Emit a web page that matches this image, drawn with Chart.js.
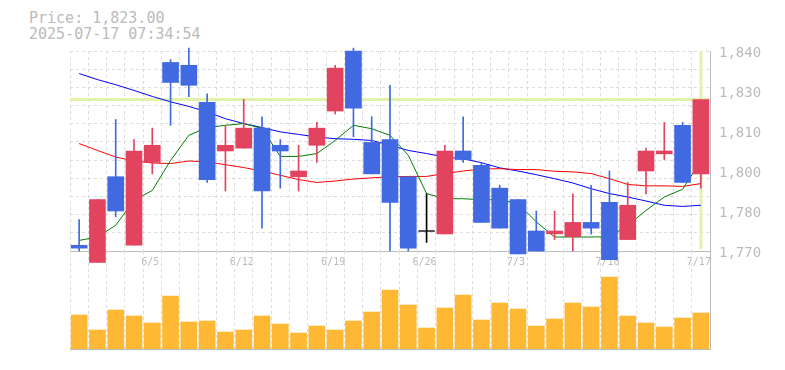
<!DOCTYPE html>
<html><head><meta charset="utf-8">
<script src="https://cdn.jsdelivr.net/npm/chart.js@4"></script>
<style>
html,body{margin:0;padding:0;background:#fff;width:785px;height:370px;overflow:hidden;}
#title{position:absolute;left:29px;top:10px;font:15px/16px "DejaVu Sans Mono",monospace;color:#bbb;white-space:pre;}
#pc{position:absolute;left:0;top:0;}
#vc{position:absolute;left:0;top:251px;}
</style></head><body>
<div id="title">Price: 1,823.00<br>2025-07-17 07:34:54</div>
<canvas id="pc" width="785" height="276"></canvas>
<canvas id="vc" width="785" height="110"></canvas>
<script>
const dates = ['5/30','6/2','6/3','6/4','6/5','6/6','6/9','6/10','6/11','6/12','6/13','6/16','6/17','6/18','6/19','6/20','6/23','6/24','6/25','6/26','6/27','6/30','7/1','7/2','7/3','7/4','7/7','7/8','7/9','7/10','7/11','7/14','7/15','7/16','7/17'];
const xTickLabels = ['6/5','6/12','6/19','6/26','7/3','7/10','7/17'];
const yTickLabels = ['1,770','1,780','1,800','1,810','1,830','1,840'];
const yMin = 1770, yMax = 1840;

const openP  = [1772,1766,1796,1772,1801,1836,1835,1822,1805,1806,1813,1807,1796,1807,1819,1840,1808,1809,1796,1777,1776,1805,1800,1792,1788,1777,1776,1775,1780,1787,1774,1798,1804,1814,1797];
const highP  = [1781,1788,1816,1809,1813,1837,1841,1825,1814,1823,1817,1809,1807,1815,1835,1841,1817,1828,1796,1790,1807,1817,1801,1793,1788,1784,1784,1790,1793,1798,1794,1806,1815,1815,1823];
const lowP   = [1770,1766,1782,1772,1797,1814,1824,1794,1791,1806,1778,1792,1791,1801,1818,1810,1797,1770,1770,1773,1776,1801,1780,1778,1769,1770,1774,1770,1776,1767,1774,1790,1802,1794,1792];
const closeP = [1771,1788,1784,1805,1807,1829,1828,1795,1807,1813,1791,1805,1798,1813,1834,1820,1797,1787,1771,1777,1805,1802,1780,1778,1769,1770,1777,1780,1778,1767,1786,1805,1805,1794,1823];

const ma5  = [1773.7,1774.9,1779.0,1787.7,1791.2,1801.7,1810.5,1813.2,1814.0,1814.6,1812.9,1803.1,1803.1,1804.1,1808.7,1814.0,1812.8,1810.5,1803.5,1790.1,1788.3,1788.3,1787.9,1788.0,1786.6,1780.2,1774.9,1774.9,1774.9,1775.0,1779.0,1784.2,1788.9,1791.6,1801.5];
const ma25 = [1807.6,1805.2,1802.9,1801.5,1800.8,1800.6,1801.5,1801.2,1800.2,1799.2,1798.0,1796.5,1795.0,1794.0,1794.5,1795.2,1795.6,1796.0,1796.1,1796.1,1797.1,1798.0,1798.7,1798.8,1798.5,1798.5,1797.9,1797.7,1797.1,1795.3,1793.3,1792.8,1792.8,1792.6,1793.6];
const ma75 = [1832.1,1830.0,1828.2,1826.2,1824.1,1822.2,1820.6,1818.7,1816.3,1814.6,1813.2,1811.7,1810.8,1809.9,1809.3,1809.1,1808.7,1807.0,1805.2,1804.1,1802.9,1802.3,1800.9,1799.1,1798.0,1796.7,1795.3,1793.8,1791.8,1790.1,1788.9,1787.5,1786.0,1785.6,1786.0];

const volume = [34000,19000,39000,33000,26000,53000,27000,28000,17000,19000,33000,25000,16000,23000,19000,28000,37000,59000,44000,21000,41000,54000,29000,46000,40000,23000,30000,46000,42000,72000,33000,26000,22000,31000,36000];
const volMax = 98000;

const RED = 'rgb(226,67,94)', BLUE = 'rgb(65,105,225)', BLACK = '#000';
const candleColor = dates.map((d,i) => closeP[i] > openP[i] ? RED : (closeP[i] < openP[i] ? BLUE : BLACK));
const FONT = 'DejaVu Sans Mono';
const GRID = '#dcdcdc', AXIS = '#bbb', TXT = '#bbb';

const lastPricePlugin = {
  id: 'lastPrice',
  beforeDatasetsDraw(chart) {
    const {ctx, chartArea: a, scales} = chart;
    const n = closeP.length - 1;
    const y = scales.y.getPixelForValue(closeP[n]);
    const x = scales.x.getPixelForValue(n);
    ctx.save();
    ctx.strokeStyle = 'rgba(222,242,160,0.9)';
    ctx.lineWidth = 3;
    ctx.beginPath();
    ctx.moveTo(a.left, y); ctx.lineTo(a.right, y);
    ctx.moveTo(x, a.top); ctx.lineTo(x, a.bottom - 2);
    ctx.stroke();
    ctx.restore();
  }
};

new Chart(document.getElementById('pc'), {
  type: 'bar',
  data: {
    labels: dates,
    datasets: [
      {type:'line', data: ma75, borderColor:'#0000ff', borderWidth:1, pointRadius:0, tension:0, fill:false, order:7, yAxisID:'y'},
      {type:'line', data: ma25, borderColor:'#ff0000', borderWidth:1, pointRadius:0, tension:0, fill:false, order:6, yAxisID:'y'},
      {type:'line', data: ma5, borderColor:'#008000', borderWidth:1, pointRadius:0, tension:0, fill:false, order:5, yAxisID:'y'},
      {type:'bar', data: dates.map((d,i)=>[lowP[i], highP[i]]), backgroundColor: candleColor, barThickness:1, grouped:false, clip:false, order:3, yAxisID:'y'},
      {type:'bar', data: dates.map((d,i)=>[openP[i], closeP[i]]), backgroundColor: candleColor, barThickness:16, grouped:false, clip:false, order:2, yAxisID:'y'},
      {type:'line', data: dates.map((d,i)=> openP[i] === closeP[i] ? openP[i] : null), showLine:false, pointStyle:'line', pointRadius:8, pointBorderColor:BLACK, pointBackgroundColor:BLACK, pointBorderWidth:1, clip:false, order:1, yAxisID:'y'}
    ]
  },
  plugins: [lastPricePlugin],
  options: {
    responsive:false, animation:false,
    layout:{padding:{left:70, top:51, right:0, bottom:0}},
    plugins:{legend:{display:false}, tooltip:{enabled:false}},
    scales:{
      y:{type:'linear', position:'left', min:yMin, max:yMax,
        afterBuildTicks: s => { s.ticks = Array.from({length:12}, (_,k) => ({value: yMin + k*(yMax-yMin)/11})); },
        ticks:{display:false}, grid:{color:GRID, drawTicks:false}, border:{display:false, dash:[3,3]},
        afterFit: s => { s.width = 0; }},
      yR:{type:'linear', position:'right', min:yMin, max:yMax,
        afterBuildTicks: s => { s.ticks = yTickLabels.map((_,k) => ({value: yMin + k*(yMax-yMin)/(yTickLabels.length-1)})); },
        ticks:{callback:(v,i)=>yTickLabels[i], padding:9, labelOffset:2, color:TXT, font:{family:FONT, size:14}},
        grid:{display:false, drawTicks:false}, border:{display:true, color:AXIS, width:1},
        afterFit: s => { s.width = 75; }},
      x:{type:'category', offset:true,
        grid:{offset:true, color:GRID, drawTicks:false}, border:{display:true, color:AXIS, width:1, dash:[3,3]},
        ticks:{autoSkip:false, maxRotation:0, padding:5, labelOffset:-2, color:TXT, font:{family:FONT, size:10},
          callback:(v,i)=> xTickLabels.includes(dates[i]) ? dates[i] : ''},
        afterFit: s => { s.height = 25; }}
    }
  }
});

new Chart(document.getElementById('vc'), {
  type:'bar',
  data:{labels:dates, datasets:[{data:volume, backgroundColor:'rgb(255,184,52)', barThickness:16}]},
  options:{
    responsive:false, animation:false,
    layout:{padding:{left:70, top:0, right:0, bottom:0}},
    plugins:{legend:{display:false}, tooltip:{enabled:false}},
    scales:{
      x:{offset:true, grid:{offset:true, color:GRID, drawTicks:false}, border:{display:true, color:AXIS, width:1, dash:[3,3]},
        ticks:{display:false}, afterFit: s => { s.height = 12; }},
      y:{position:'right', min:0, max:volMax, grid:{display:false, drawTicks:false}, ticks:{display:false},
        border:{display:true, color:AXIS, width:1}, afterFit: s => { s.width = 75; }}
    }
  }
});
</script>
</body></html>
